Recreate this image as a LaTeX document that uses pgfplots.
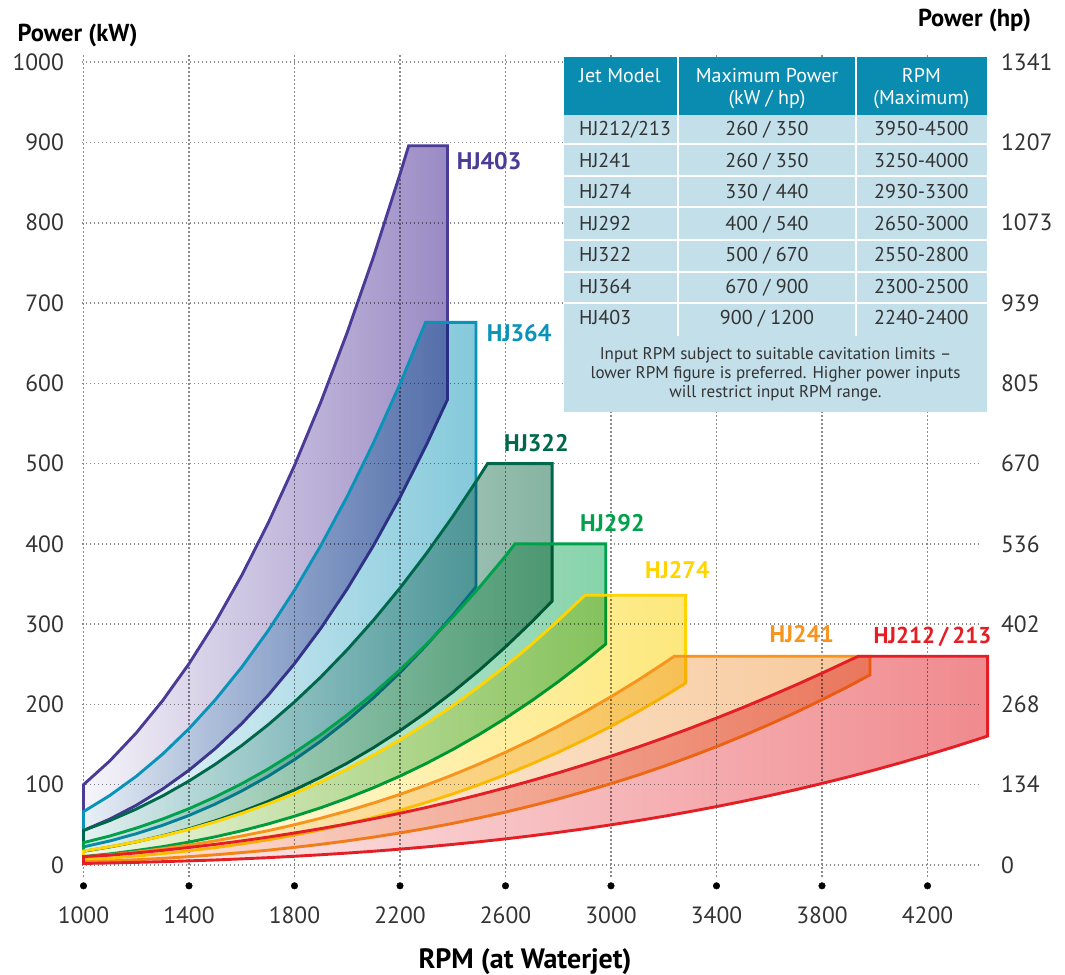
\documentclass[border=0pt]{standalone}
\usepackage{fontspec}
\setmainfont{PT Sans}
\usepackage{pgfplots}
\usepackage{pgfplotstable}
\pgfplotsset{compat=1.18}

\definecolor{c403}{HTML}{4A3B96}
\definecolor{f403}{HTML}{9A8AC4}
\definecolor{c364}{HTML}{0A93B8}
\definecolor{f364}{HTML}{84C9DB}
\definecolor{c322}{HTML}{00684A}
\definecolor{f322}{HTML}{86B3A2}
\definecolor{c292}{HTML}{00A14B}
\definecolor{f292}{HTML}{86D3AA}
\definecolor{c274}{HTML}{FFD400}
\definecolor{f274}{HTML}{FDE87C}
\definecolor{c241}{HTML}{F7941D}
\definecolor{f241}{HTML}{F7C89A}
\definecolor{c212}{HTML}{E31E25}
\definecolor{f212}{HTML}{F08A8E}
\definecolor{hdr}{HTML}{0A8BB0}
\definecolor{bodyc}{HTML}{C2DFEA}
\definecolor{txt}{HTML}{333333}
\definecolor{gridc}{HTML}{8A8A8A}

\pgfplotstableread{
x y
1000 100
1100 129.7
1200 164.5
1300 204.7
1400 250.6
1500 302.5
1600 360.8
1700 425.7
1800 497.6
1900 576.8
2000 663.5
2100 758.0
2200 860.7
2233 896
2380 896
2380 579.7
2300 523.2
2200 457.9
2100 398.2
2000 344
1900 294.9
1800 250.8
1700 211.3
1600 176.1
1500 145.1
1400 118.0
1300 94.5
1200 74.3
1100 57.2
1000 43
}\Tfourothree

\pgfplotstableread{
x y
1000 66.4
1100 86.6
1200 110.4
1300 138.1
1400 169.8
1500 205.8
1600 246.4
1700 291.8
1800 342.3
1900 398.0
2000 459.2
2100 526.2
2200 599.2
2297 676
2488 676
2488 346.5
2400 311.0
2300 273.8
2200 239.6
2100 208.4
2000 180
1900 154.3
1800 131.2
1700 110.5
1600 92.2
1500 75.9
1400 61.7
1300 49.4
1200 38.9
1100 29.9
1000 22.5
}\Tthreesixfour

\pgfplotstableread{
x y
1000 43
1100 55.3
1200 69.6
1300 86.0
1400 104.6
1500 125.5
1600 148.8
1700 174.6
1800 203.1
1900 234.2
2000 268.2
2100 305.1
2200 345.0
2300 388.0
2400 434.1
2500 483.5
2532 500
2777 500
2777 328.8
2700 303.0
2600 271.6
2500 242.4
2400 215.3
2300 190.3
2200 167.3
2100 146.2
2000 126.9
1900 109.4
1800 93.5
1700 79.2
1600 66.4
1500 55.1
1400 45.1
1300 36.4
1200 28.8
1100 22.4
1000 17
}\Tthreetwotwo

\pgfplotstableread{
x y
1000 27.8
1100 36.1
1200 45.9
1300 57.2
1400 70.1
1500 84.8
1600 101.2
1700 119.6
1800 140.0
1900 162.4
2000 187.0
2100 213.9
2200 243.1
2300 274.7
2400 308.8
2500 345.5
2600 384.8
2636 400
2980 400
2980 275.2
2900 253.6
2800 228.3
2700 204.7
2600 182.8
2500 162.5
2400 143.8
2300 126.5
2200 110.7
2100 96.3
2000 83.2
1900 71.3
1800 60.7
1700 51.1
1600 42.6
1500 35.1
1400 28.5
1300 22.8
1200 18.0
1100 13.8
1000 10.4
}\Ttwoninetwo

\pgfplotstableread{
x y
1000 17.4
1100 22.7
1200 28.9
1300 36.1
1400 44.3
1500 53.7
1600 64.3
1700 76.1
1800 89.2
1900 103.6
2000 119.5
2100 136.9
2200 155.8
2300 176.3
2400 198.4
2500 222.3
2600 247.8
2700 275.2
2800 304.6
2901 336
3283 336
3283 226.5
3200 209.7
3100 190.7
3000 172.8
2900 156.1
2800 140.5
2700 126.0
2600 112.5
2500 100
2400 88.5
2300 77.9
2200 68.1
2100 59.3
2000 51.2
1900 43.9
1800 37.3
1700 31.4
1600 26.2
1500 21.6
1400 17.6
1300 14.1
1200 11.1
1100 8.5
1000 6.4
}\Ttwosevenfour

\pgfplotstableread{
x y
1000 9.7
1100 12.6
1200 16.1
1300 20.2
1400 24.8
1500 30.1
1600 36.1
1700 42.7
1800 50.1
1900 58.3
2000 67.3
2100 77.2
2200 87.9
2300 99.6
2400 112.2
2500 125.8
2600 140.4
2700 156.0
2800 172.8
2900 190.6
3000 209.6
3100 229.7
3200 251.1
3240 260
3982 260
3982 236.8
3900 222.4
3800 205.8
3700 189.9
3600 175.0
3500 160.8
3400 147.4
3300 134.8
3200 122.9
3100 111.7
3000 101.3
2900 91.5
2800 82.3
2700 73.8
2600 65.9
2500 58.6
2400 51.8
2300 45.6
2200 39.9
2100 34.7
2000 30.0
1900 25.7
1800 21.9
1700 18.4
1600 15.4
1500 12.7
1400 10.3
1300 8.2
1200 6.5
1100 5.0
1000 3.75
}\Ttwofourone

\pgfplotstableread{
x y
1000 10.5
1100 12.2
1200 15.0
1300 18.2
1400 21.8
1500 25.7
1600 30.0
1700 34.7
1800 39.8
1900 45.3
2000 51.2
2100 57.6
2200 64.4
2300 71.6
2400 79.3
2500 87.5
2600 96.1
2700 105.2
2800 114.8
2900 124.9
3000 135.5
3100 146.6
3200 158.2
3300 170.3
3400 183.0
3500 196.1
3600 209.9
3700 224.1
3800 238.9
3900 254.3
3938 260
4428 260
4428 160.6
4400 157.6
4300 147.1
4200 137.1
4100 127.5
4000 118.4
3900 109.7
3800 101.5
3700 93.7
3600 86.3
3500 79.3
3400 72.7
3300 66.5
3200 60.6
3100 55.1
3000 50.0
2900 45.1
2800 40.6
2700 36.4
2600 32.5
2500 28.9
2400 25.6
2300 22.5
2200 19.7
2100 17.1
2000 14.8
1900 12.7
1800 10.8
1700 9.1
1600 7.6
1500 6.2
1400 5.1
1300 4.1
1200 3.2
1100 2.5
1000 1.85
}\Ttwoonetwo

\newcommand\tickfont{\fontsize{23.5}{28}\selectfont}
\newcommand\tabfont{\fontsize{20}{24}\selectfont}
\newcommand\notefont{\fontsize{17}{20}\selectfont}
\newcommand\hjfont{\fontsize{24}{28}\selectfont\bfseries}
\newcommand\titfont{\fontsize{24.5}{28}\selectfont\bfseries}

\pgfplotsset{
  shapefill/.style 2 args={draw=none, left color=#1!5!white, right color=#2, blend mode=multiply},
  shapeline/.style={draw=#1, line width=2.9pt, line join=miter},
}

\begin{document}
\begin{tikzpicture}[x=1pt,y=1pt]
\path (-81.65,-97) rectangle (983.35,877);
\begin{axis}[
  at={(0,0)}, anchor=south west, scale only axis,
  width=898.6pt, height=822pt,
  xmin=993, xmax=4400, ymin=-15, ymax=1009,
  clip=false,
  xtick={1000,1400,...,4200}, ytick={0,100,...,1000},
  grid=major,
  grid style={gridc, line width=1.6pt, dash pattern=on 1.6pt off 2.4pt},
  axis line style={draw=none}, tick style={draw=none}, major tick length=0pt,
  /pgf/number format/assume math mode=true,
  /pgf/number format/1000 sep={},
  xticklabel style={anchor=north, inner sep=0pt, yshift=-29.7pt, font=\tickfont, text=txt},
  yticklabel style={anchor=east, inner sep=0pt, xshift=-17.6pt, font=\tickfont, text=txt},
]
\addplot[shapefill={c403}{f403}] table {\Tfourothree} -- cycle;
\addplot[shapeline=c403] table {\Tfourothree} -- cycle;
\addplot[shapefill={c364}{f364}] table {\Tthreesixfour} -- cycle;
\addplot[shapeline=c364] table {\Tthreesixfour} -- cycle;
\addplot[shapefill={c322}{f322}] table {\Tthreetwotwo} -- cycle;
\addplot[shapeline=c322] table {\Tthreetwotwo} -- cycle;
\addplot[shapefill={c292}{f292}] table {\Ttwoninetwo} -- cycle;
\addplot[shapeline=c292] table {\Ttwoninetwo} -- cycle;
\addplot[shapefill={c274}{f274}] table {\Ttwosevenfour} -- cycle;
\addplot[shapeline=c274] table {\Ttwosevenfour} -- cycle;
\addplot[shapefill={c241}{f241}] table {\Ttwofourone} -- cycle;
\addplot[shapeline=c241] table {\Ttwofourone} -- cycle;
\addplot[shapefill={c212}{f212}] table {\Ttwoonetwo} -- cycle;
\addplot[shapeline=c212] table {\Ttwoonetwo} -- cycle;
\addplot[only marks, mark=*, mark size=3.3pt, black] coordinates {
(1000,-26) (1400,-26) (1800,-26) (2200,-26) (2600,-26) (3000,-26) (3400,-26) (3800,-26) (4200,-26)};
\end{axis}
\begin{axis}[
  at={(0,0)}, anchor=south west, scale only axis,
  width=898.6pt, height=822pt,
  xmin=993, xmax=4400, ymin=-15, ymax=1009,
  axis x line=none, axis y line*=right,
  axis line style={draw=none}, tick style={draw=none}, major tick length=0pt,
  ytick={0,100,...,1000},
  yticklabels={0,134,268,402,536,670,805,939,1073,1207,1341},
  yticklabel style={anchor=west, inner sep=0pt, xshift=20.7pt, font=\tickfont, text=txt},
]
\addplot[draw=none] coordinates {(1000,0)};
\end{axis}

% axis titles
\node[anchor=base west, inner sep=0pt, font=\titfont] at (-64.15,835.3) {Power (kW)};
\node[anchor=base east, inner sep=0pt, font=\titfont] at (949.55,850.3) {Power (hp)};
\node[anchor=base, inner sep=0pt, font=\fontsize{28}{32}\selectfont\bfseries] at (443.35,-91) {RPM (at Waterjet)};

% series labels
\node[anchor=base west, inner sep=0pt, font=\hjfont, text=c403] at (375.05,707.3) {HJ403};
\node[anchor=base west, inner sep=0pt, font=\hjfont, text=c364] at (405.05,535.7) {HJ364};
\node[anchor=base west, inner sep=0pt, font=\hjfont, text=c322] at (422.35,425.7) {HJ322};
\node[anchor=base west, inner sep=0pt, font=\hjfont, text=c292] at (498.35,345.7) {HJ292};
\node[anchor=base west, inner sep=0pt, font=\hjfont, text=c274] at (563.35,298.3) {HJ274};
\node[anchor=base west, inner sep=0pt, font=\hjfont, text=c241] at (687.65,234) {HJ241};
\node[anchor=base west, inner sep=0pt, font=\fontsize{23}{27}\selectfont\bfseries, text=c212] at (791.65,233) {HJ212\,/\,213};

% table
\fill[bodyc] (482.35,465.3) rectangle (905.35,762);
\fill[hdr] (482.35,762) rectangle (905.35,819.7);
\foreach \yy in {732.7,701,669.7,637,604.7,573.7} {
  \draw[white, line width=2pt] (482.35,\yy) -- (905.35,\yy);
}
\draw[white, line width=2pt] (596.65,819.7) -- (596.65,541);
\draw[white, line width=2pt] (774.05,819.7) -- (774.05,541);
\begin{scope}[every node/.style={inner sep=0pt, font=\tabfont}]
\node[anchor=base west, text=white] at (497.35,794.7) {Jet Model};
\node[anchor=base, text=white] at (685.35,794.7) {Maximum Power};
\node[anchor=base, text=white] at (685.35,772.3) {(kW / hp)};
\node[anchor=base, text=white] at (839.75,794.7) {RPM};
\node[anchor=base, text=white] at (839.75,772.3) {(Maximum)};
\node[anchor=base west, text=txt] at (497.35,741) {HJ212/213};
\node[anchor=base, text=txt] at (685.35,741) {260 / 350};
\node[anchor=base, text=txt] at (839.75,741) {3950-4500};
\node[anchor=base west, text=txt] at (497.35,709) {HJ241};
\node[anchor=base, text=txt] at (685.35,709) {260 / 350};
\node[anchor=base, text=txt] at (839.75,709) {3250-4000};
\node[anchor=base west, text=txt] at (497.35,678.3) {HJ274};
\node[anchor=base, text=txt] at (685.35,678.3) {330 / 440};
\node[anchor=base, text=txt] at (839.75,678.3) {2930-3300};
\node[anchor=base west, text=txt] at (497.35,646.7) {HJ292};
\node[anchor=base, text=txt] at (685.35,646.7) {400 / 540};
\node[anchor=base, text=txt] at (839.75,646.7) {2650-3000};
\node[anchor=base west, text=txt] at (497.35,615) {HJ322};
\node[anchor=base, text=txt] at (685.35,615) {500 / 670};
\node[anchor=base, text=txt] at (839.75,615) {2550-2800};
\node[anchor=base west, text=txt] at (497.35,583.3) {HJ364};
\node[anchor=base, text=txt] at (685.35,583.3) {670 / 900};
\node[anchor=base, text=txt] at (839.75,583.3) {2300-2500};
\node[anchor=base west, text=txt] at (497.35,552.3) {HJ403};
\node[anchor=base, text=txt] at (685.35,552.3) {900 / 1200};
\node[anchor=base, text=txt] at (839.75,552.3) {2240-2400};
\end{scope}
\begin{scope}[every node/.style={inner sep=0pt, font=\notefont, text=txt, anchor=base}]
\node at (693.85,517) {Input RPM subject to suitable cavitation limits –};
\node at (693.85,498.3) {lower RPM figure is preferred. Higher power inputs};
\node at (693.85,479.3) {will restrict input RPM range.};
\end{scope}
\end{tikzpicture}
\end{document}
